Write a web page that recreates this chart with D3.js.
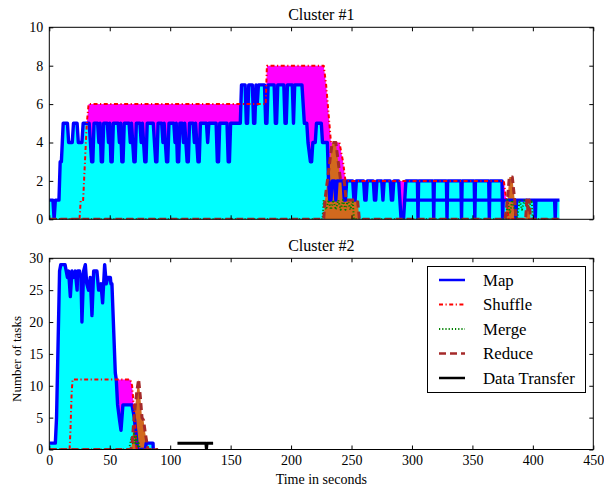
<!DOCTYPE html>
<html><head><meta charset="utf-8">
<script src="https://cdn.jsdelivr.net/npm/d3@7"></script>
<style>
body{margin:0;background:#fff}
svg{display:block}
text{font-family:"Liberation Serif","Times New Roman",Times,serif;fill:#000}
</style>
</head><body>
<svg id="c" width="604" height="489"></svg>
<script>
// ---------- data ----------
const xTicks = [0, 50, 100, 150, 200, 250, 300, 350, 400, 450];
const y1Ticks = [0, 2, 4, 6, 8, 10];
const y2Ticks = [0, 5, 10, 15, 20, 25, 30];
const titles = ["Cluster #1", "Cluster #2"];
const seriesNames = ["Map", "Shuffle", "Merge", "Reduce", "Data Transfer"];

// Cluster #1
const map1 = [[0,1],[3,1],[4,0],[5,1],[8,1],[9,3],[10,3],[11.5,5],
 [15,5],[16,4],[19,4],[20,5],[23,5],[24,4],[27,4],[28,5],
 [33,5],[34,4],[35,3],[36,3],[37,5],
 [40,5],[41,4],[42,5],[43,3],[44,3],[45,5],
 [48,5],[49,4],[50,5],[51,3],[52,3],[53,5],
 [57,5],[58,4],[59,5],[60,3],[61,3],[62,5],
 [66,5],[67,4],[68,5],[70,3],[71,3],[72,5],
 [75,5],[76,4],[77,5],[79,3],[80,3],[81,5],
 [86,5],[87,4],[88,3],[89,3],[90,5],
 [93,5],[94,4],[95,5],[97,3],[98,3],[99,5],
 [103,5],[104,4],[105,5],[106,3],[107,3],[108,5],
 [110,5],[111,4],[112,5],[114,3],[115,3],[116,5],
 [119,5],[120,4],[121,5],[123,3],[124,3],[125,5],
 [130,5],[131,4],[132,5],[138,5],[139,3],[140,3],[141,5],
 [147,5],[148,3],[149,3],[150,5],[158,5],[159,7],
 [162,7],[163,5],[164,5],[165,7],[168,7],[169,5],[170,5],[171,7],[172,6],[173,7],
 [178,7],[179,5],[180,5],[181,7],[186,7],[187,5],[188,5],[189,7],
 [194,7],[195,5],[196,5],[197,7],[201,7],[202,5],[203,7],[209,7],
 [211,5],[213,5],[214,4],[216,3],[217,3],[218,4],[220,4],[221,5],[225,5],[226,4],[230,4],[231,2],[232,1],[233,1],[234,2],
 [236,2],[237,1],[238,2],[243,2],[244,1],[245,1],[246,2],[251,2],[252,1],[253,1],[254,2],
 [260,2],[261,1],[262,1],[263,2],[268,2],[269,1],[270,1],[271,2],[275,2],[276,1],[277,2],
 [282,2],[283,1],[284,1],[285,2],[289,2],[291,0],[293,0],[294,1],[295,2],
 [304.5,2],[305,0],[305.5,2],[317.5,2],[318,0],[318.5,2],[328.5,2],[329,0],[329.5,2],
 [340.5,2],[341,0],[341.5,2],[351.5,2],[352,0],[352.5,2],[363.5,2],[364,0],[364.5,2],
 [374.5,2],[375,0],[375.5,1],[294,1],[375.5,1],
 [385.5,1],[386,0],[386.5,1],[401.5,1],[402,0],[402.5,1],[418,1],[418.5,0],[419,1],[422,1]];
const shuffle1 = [[0,0],[25,0],[26,1],[28,1],[29.5,3],[31,5],[32.5,6],[179,6],[180,8],[227,8],
 [229,7],[231,5.5],[233,4],[240,4],[243,3],[245,2],[376,2],[380,0],[422,0]];
const merge1 = [[0,0],[226,0],[227,1],[229,0.5],[231,1],[233,0.5],[235,1],[237,0.5],[239,1],[241,0.5],
 [243,1],[245,0.5],[247,1],[249,0.5],[251,1],[252,0],[378,0],[379,1],[381,0.3],[383,1],[385,0.5],
 [387,0],[389,1],[391,0.5],[393,1],[396,0.5],[399,1],[400,0],[422,0]];
const reduce1 = [[0,0],[227,0],[228,1],[230,2],[232,3],[234,4],[237,4],[239,3],[241,2],[244,2],
 [245.5,1],[255,1],[256.5,0],[377,0],[379,1],[380.5,2.2],[383,2.2],[385,1],[386,0],
 [394,0],[395,1],[396,0.5],[397,1],[398,0],[422,0]];
const transfer1 = [];

// Cluster #2
const map2 = [[0,1],[5,1],[6,5],[8.5,28],[9.5,29],[13,29],[14,28],[15,27],[16,28],[17.4,24],[18.7,28],
 [20,27],[21.5,28],[23,25],[23.5,28],[25,28],[26.2,27],[27,20],[28.4,28],[29.8,29],[31,26],[32.5,25],
 [33.9,27],[35.3,21],[36.7,28],[39.4,28],[40.8,25],[42.2,25],[42.7,26],[44.1,23],[45.8,29],[47.1,26],
 [48.5,27],[50.5,27],[51,26],[51.8,26],[54.6,12],[55.4,11],[56.5,7],[58.2,4.5],[59.3,3],[60.9,7],
 [67,7],[68.4,7],[70.3,5],[72,2],[73,0],[79.4,0],[80.2,1],[85.8,1],[86,0]];
const shuffle2 = [[0,0],[16.8,0],[17.5,3],[18.5,9],[19.3,11],[67,11],[68.5,10],[69.8,7],[71,4],[72.5,0],[90,0]];
const merge2 = [[0,0],[66,0],[67,1],[68,2],[69,1],[70,2.5],[71,1],[72,2],[73,0.5],[74,1],[75,0],[90,0]];
const reduce2 = [[0,0],[67.5,0],[68.5,1],[69.7,4],[71,6.7],[72.5,9.3],[73.9,11],[75.3,8.3],[76.7,5],
 [78,4.6],[79.4,2.6],[80.8,1],[81.6,0],[90,0]];
const transfer2 = [[106,1],[129.5,1],[130,0],[130.5,1],[135.5,1]];

// ---------- drawing ----------
const svg = d3.select("#c");
const x = d3.scaleLinear().domain([0, 450]).range([49.3, 593.3]);
const y1 = d3.scaleLinear().domain([0, 10]).range([219.3, 27.3]);
const y2 = d3.scaleLinear().domain([0, 30]).range([449.5, 258.3]);

const style = {
  Map: {stroke: "#0000ff", width: 3.4, dash: null, fill: "#00ffff"},
  Shuffle: {stroke: "#ff0000", width: 2, dash: "4,2.5,1.2,2.5", fill: "#ff00ff"},
  Merge: {stroke: "#008000", width: 2, dash: "1.2,2", fill: null},
  Reduce: {stroke: "#a52a2a", width: 3, dash: "7,4", fill: "#d2691e"},
  "Data Transfer": {stroke: "#000000", width: 3, dash: null, fill: null}
};

function panel(idx, y, yTicks, data, showX) {
  const [r0, r1] = y.range();
  const g = svg.append("g");
  const cid = "clip" + idx;
  svg.append("defs").append("clipPath").attr("id", cid)
    .append("rect").attr("x", x(0)).attr("y", r1).attr("width", x(450) - x(0)).attr("height", r0 - r1);
  const plot = g.append("g").attr("clip-path", `url(#${cid})`);
  const area = d3.area().x(d => x(d[0])).y0(y(0)).y1(d => y(d[1]));
  const line = d3.line().x(d => x(d[0])).y(d => y(d[1]));
  // fills: shuffle, map, reduce
  [["Shuffle", data.Shuffle], ["Map", data.Map], ["Reduce", data.Reduce]].forEach(([k, d]) => {
    plot.append("path").attr("d", area(d)).attr("fill", style[k].fill).attr("stroke", "none");
  });
  // lines
  ["Map", "Shuffle", "Merge", "Reduce", "Data Transfer"].forEach(k => {
    const d = data[k];
    if (!d || !d.length) return;
    plot.append("path").attr("d", line(d)).attr("fill", "none")
      .attr("stroke", style[k].stroke).attr("stroke-width", style[k].width)
      .attr("stroke-dasharray", style[k].dash).attr("stroke-linejoin", "round");
  });
  // axes with inward ticks
  const axL = d3.axisLeft(y).tickValues(yTicks).tickSize(-4).tickPadding(6).tickFormat(d3.format("d"));
  const axR = d3.axisRight(y).tickValues(yTicks).tickSize(-4).tickFormat("");
  const axT = d3.axisTop(x).tickValues(xTicks).tickSize(-4).tickFormat("");
  const axB = d3.axisBottom(x).tickValues(xTicks).tickSize(-4).tickPadding(6)
    .tickFormat(showX ? d3.format("d") : "");
  g.append("g").attr("transform", `translate(${x(0)},0)`).call(axL);
  g.append("g").attr("transform", `translate(${x(450)},0)`).call(axR);
  g.append("g").attr("transform", `translate(0,${r1})`).call(axT);
  g.append("g").attr("transform", `translate(0,${r0})`).call(axB);
  g.selectAll(".domain").remove();
  g.selectAll(".tick line").attr("stroke", "#000").attr("stroke-width", 1);
  g.selectAll(".tick text").attr("font-size", 14).attr("font-family", "Liberation Serif");
  // frame
  g.append("rect").attr("x", x(0)).attr("y", r1).attr("width", x(450) - x(0)).attr("height", r0 - r1)
    .attr("fill", "none").attr("stroke", "#000").attr("stroke-width", 1);
  // title
  g.append("text").attr("x", (x(0) + x(450)) / 2).attr("y", r1 - 7).attr("text-anchor", "middle")
    .attr("font-size", 16).text(titles[idx]);
  return g;
}

panel(0, y1, y1Ticks, {Map: map1, Shuffle: shuffle1, Merge: merge1, Reduce: reduce1, "Data Transfer": transfer1}, false);
panel(1, y2, y2Ticks, {Map: map2, Shuffle: shuffle2, Merge: merge2, Reduce: reduce2, "Data Transfer": transfer2}, true);

// axis labels
svg.append("text").attr("x", (x(0) + x(450)) / 2).attr("y", 484).attr("text-anchor", "middle")
  .attr("font-size", 14).text("Time in seconds");
svg.append("text").attr("transform", "translate(21,359) rotate(-90)").attr("text-anchor", "middle")
  .attr("font-size", 13).text("Number of tasks");

// legend
const lg = svg.append("g");
lg.append("rect").attr("x", 427.5).attr("y", 266.5).attr("width", 158).attr("height", 126)
  .attr("fill", "#fff").attr("stroke", "#000").attr("stroke-width", 1);
const ly = d3.scalePoint().domain(seriesNames).range([280, 378]);
seriesNames.forEach(k => {
  lg.append("line").attr("x1", 439).attr("x2", 465).attr("y1", ly(k)).attr("y2", ly(k))
    .attr("stroke", style[k].stroke).attr("stroke-width", style[k].width >= 3 ? 2.5 : 2)
    .attr("stroke-dasharray", style[k].dash);
  lg.append("text").attr("x", 483).attr("y", ly(k)).attr("dy", "0.35em").attr("font-size", 16.8).text(k);
});
</script>
</body></html>
